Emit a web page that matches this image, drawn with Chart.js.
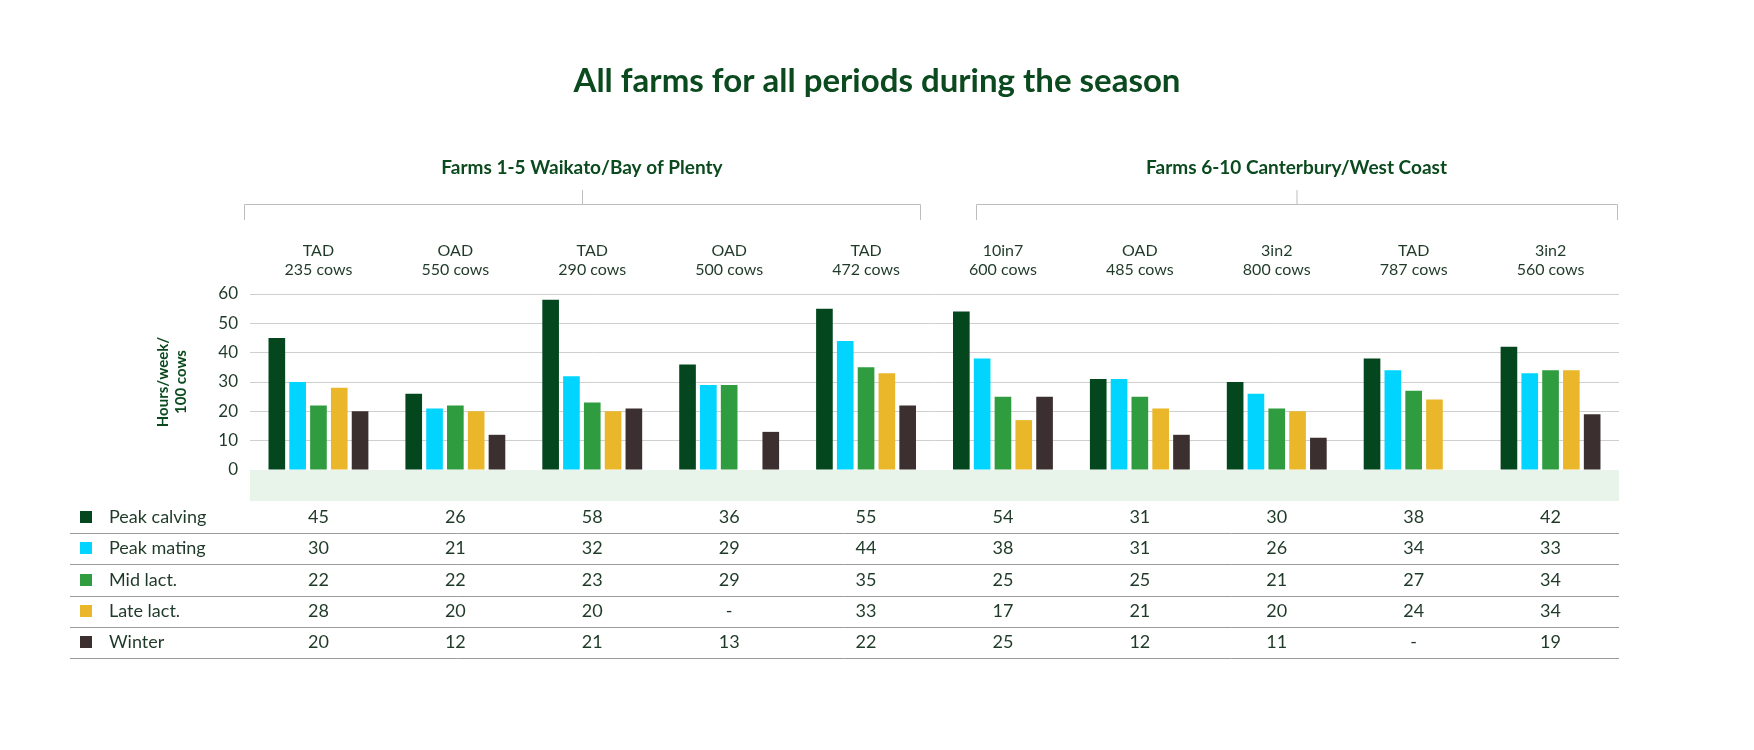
<!DOCTYPE html>
<html>
<head>
<meta charset="utf-8">
<script src="https://cdn.jsdelivr.net/npm/chart.js@4"></script>
<style>
  html, body { margin: 0; padding: 0; background: #fff; }
  #wrap { width: 1754px; height: 750px; }
</style>
</head>
<body>
<div id="wrap"><canvas id="chart" width="1754" height="750"></canvas></div>
<script>
const farms = ['Farm 1', 'Farm 2', 'Farm 3', 'Farm 4', 'Farm 5', 'Farm 6', 'Farm 7', 'Farm 8', 'Farm 9', 'Farm 10'];
const systems = ['TAD', 'OAD', 'TAD', 'OAD', 'TAD', '10in7', 'OAD', '3in2', 'TAD', '3in2'];
const herds = ['235 cows', '550 cows', '290 cows', '500 cows', '472 cows', '600 cows', '485 cows', '800 cows', '787 cows', '560 cows'];
const regions = ['Farms 1-5 Waikato/Bay of Plenty', 'Farms 6-10 Canterbury/West Coast'];

const seriesNames = ['Peak calving', 'Peak mating', 'Mid lact.', 'Late lact.', 'Winter'];
const peakCalving = [45, 26, 58, 36, 55, 54, 31, 30, 38, 42];
const peakMating = [30, 21, 32, 29, 44, 38, 31, 26, 34, 33];
const midLact = [22, 22, 23, 29, 35, 25, 25, 21, 27, 34];
const lateLact = [28, 20, 20, null, 33, 17, 21, 20, 24, 34];
const winter = [20, 12, 21, 13, 22, 25, 12, 11, null, 19];
const colours = ['#04471f', '#00d4ff', '#2e9c3f', '#eab72a', '#3c2f2f'];
const allSeries = [peakCalving, peakMating, midLact, lateLact, winter];

const green = '#0b4a1e';
const textCol = '#1f3a28';
const font = 'Lato, "Open Sans", sans-serif';

// titles, brackets, farm headers, band and table
const decorations = {
    id: 'decorations',
    beforeDatasetsDraw(chart) {
        const { ctx, scales: { x }, chartArea } = chart;
        const half = (x.getPixelForValue(1) - x.getPixelForValue(0)) / 2;
        ctx.save();
        // band behind farm labels
        ctx.fillStyle = '#e8f4ea';
        ctx.fillRect(chartArea.left, chartArea.bottom, chartArea.right - chartArea.left, 31);
        ctx.restore();
    },
    afterDraw(chart) {
        const { ctx, scales: { x }, chartArea } = chart;
        const half = (x.getPixelForValue(1) - x.getPixelForValue(0)) / 2;
        ctx.save();
        ctx.textAlign = 'center';
        ctx.textBaseline = 'middle';

        ctx.fillStyle = green;
        ctx.font = `bold 33px ${font}`;
        ctx.fillText('All farms for all periods during the season', 877, 81);

        // region brackets
        const groups = [[0, 4, 244, 920], [5, 9, 976, 1617]];
        groups.forEach((g, i) => {
            const [, , l, r] = g;
            const c = (l + r) / 2;
            ctx.fillStyle = green;
            ctx.font = `bold 19px ${font}`;
            ctx.fillText(regions[i], c, 168);
            ctx.strokeStyle = '#bdbdbd';
            ctx.lineWidth = 1;
            ctx.beginPath();
            ctx.moveTo(l + 0.5, 220); ctx.lineTo(l + 0.5, 204.5);
            ctx.lineTo(r + 0.5, 204.5); ctx.lineTo(r + 0.5, 220);
            ctx.moveTo(c + 0.5, 204.5); ctx.lineTo(c + 0.5, 190);
            ctx.stroke();
        });

        // farm headers
        ctx.fillStyle = textCol;
        ctx.font = `16px ${font}`;
        farms.forEach((f, i) => {
            const cx = x.getPixelForValue(i);
            ctx.fillText(systems[i], cx, 251);
            ctx.fillText(herds[i], cx, 270);
        });

        // y title
        ctx.save();
        ctx.translate(172, 382);
        ctx.rotate(-Math.PI / 2);
        ctx.fillStyle = green;
        ctx.font = `bold 15px ${font}`;
        ctx.fillText('Hours/week/', 0, -9);
        ctx.fillText('100 cows', 0, 9);
        ctx.restore();

        // table
        const rowY = [517, 548, 580, 611, 642];
        rowY.forEach((y, r) => {
            ctx.fillStyle = colours[r];
            ctx.fillRect(80, y - 6, 12, 12);
            ctx.fillStyle = textCol;
            ctx.font = `18px ${font}`;
            ctx.textAlign = 'left';
            ctx.fillText(seriesNames[r], 109, y);
            ctx.textAlign = 'center';
            allSeries[r].forEach((v, i) => {
                ctx.fillText(v === null ? '-' : String(v), x.getPixelForValue(i), y);
            });
            ctx.strokeStyle = '#9a9a9a';
            ctx.beginPath();
            ctx.moveTo(70, y + 16.5);
            ctx.lineTo(chartArea.right, y + 16.5);
            ctx.stroke();
        });
        ctx.restore();
    }
};

new Chart(document.getElementById('chart'), {
    type: 'bar',
    data: {
        labels: farms,
        datasets: allSeries.map((d, i) => ({
            label: seriesNames[i],
            data: d,
            backgroundColor: colours[i],
            categoryPercentage: 0.76,
            barPercentage: 0.8
        }))
    },
    options: {
        responsive: false,
        animation: false,
        layout: { padding: { left: 190, right: 135, top: 294, bottom: 250 } },
        plugins: { legend: { display: false }, tooltip: { enabled: false } },
        scales: {
            x: {
                grid: { display: false },
                border: { display: false },
                ticks: { color: textCol, font: { family: font, size: 18 }, padding: 4 },
                afterFit(s) { s.height = 30; }
            },
            y: {
                min: 0, max: 60,
                ticks: { stepSize: 10, color: textCol, font: { family: font, size: 17 }, padding: 12 },
                grid: { color: '#cfcfcf', drawTicks: false },
                border: { display: false },
                afterFit(s) { s.width = 60; }
            }
        }
    },
    plugins: [decorations]
});
</script>
</body>
</html>
